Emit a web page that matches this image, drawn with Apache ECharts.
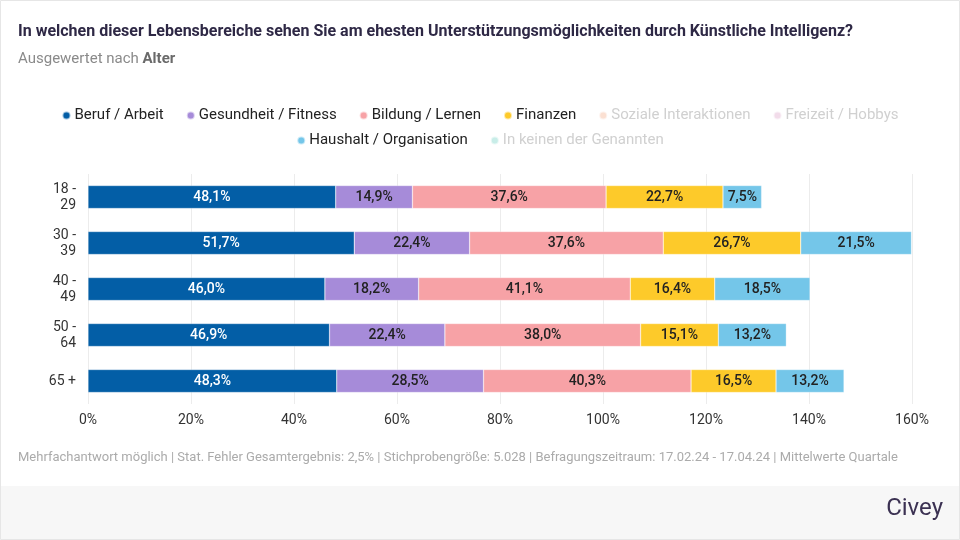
<!DOCTYPE html>
<html><head><meta charset="utf-8">
<script src="https://cdn.jsdelivr.net/npm/echarts@6/dist/echarts.min.js"></script>
<style>html,body{margin:0;padding:0;background:#fff}#c{width:960px;height:540px}</style>
</head><body><div id="c"></div>
<script>
const categories = ['18 -\n29', '30 -\n39', '40 -\n49', '50 -\n64', '65 +'];
const beruf = [48.1, 51.7, 46.0, 46.9, 48.3];
const gesundheit = [14.9, 22.4, 18.2, 22.4, 28.5];
const bildung = [37.6, 37.6, 41.1, 38.0, 40.3];
const finanzen = [22.7, 26.7, 16.4, 15.1, 16.5];
const soziale = [];
const freizeit = [];
const haushalt = [7.5, 21.5, 18.5, 13.2, 13.2];
const keine = [];
const tickLabels = ['0%', '20%', '40%', '60%', '80%', '100%', '120%', '140%', '160%'];

const seriesDefs = [
  {name: 'Beruf / Arbeit', data: beruf, color: '#035ea6', label: '#ffffff', active: true, row: 0},
  {name: 'Gesundheit / Fitness', data: gesundheit, color: '#a68bd9', label: '#222222', active: true, row: 0},
  {name: 'Bildung / Lernen', data: bildung, color: '#f7a2a6', label: '#222222', active: true, row: 0},
  {name: 'Finanzen', data: finanzen, color: '#fdca2a', label: '#222222', active: true, row: 0},
  {name: 'Soziale Interaktionen', data: soziale, color: '#fbe0d2', label: '#222222', active: false, row: 0},
  {name: 'Freizeit / Hobbys', data: freizeit, color: '#f2dcea', label: '#222222', active: false, row: 0},
  {name: 'Haushalt / Organisation', data: haushalt, color: '#74c6e9', label: '#222222', active: true, row: 1},
  {name: 'In keinen der Genannten', data: keine, color: '#c8ede8', label: '#222222', active: false, row: 1}
];

const FONT = 'Roboto';
function legendFor(row, top) {
  return {
    top: top, left: 'center',
    icon: 'circle', itemWidth: 8, itemHeight: 8, itemGap: 22,
    textStyle: {fontSize: 15, color: '#222', fontFamily: FONT, padding: [0, 0, 0, -1]},
    data: seriesDefs.filter(s => s.row === row)
      .map(s => s.active ? {name: s.name} : {name: s.name, textStyle: {color: '#d0d0d0'}})
  };
}

const chart = echarts.init(document.getElementById('c'));
chart.setOption({
  animation: false,
  textStyle: {fontFamily: FONT},
  graphic: [
    {type: 'rect', shape: {x: 0, y: 486, width: 960, height: 54}, style: {fill: '#f7f7f7'}, z: -10},
    {type: 'rect', shape: {x: 0.5, y: 0.5, width: 959, height: 539}, style: {fill: 'none', stroke: '#e6e6e6', lineWidth: 1}, z: -5},
    {type: 'text', left: 18, top: 24, style: {text: 'In welchen dieser Lebensbereiche sehen Sie am ehesten Unterstützungsmöglichkeiten durch Künstliche Intelligenz?', font: 'bold 16px Roboto', fill: '#2e2845'}},
    {type: 'text', left: 18, top: 52, style: {rich: {a: {font: '15px Roboto', fill: '#8a8a8a'}, b: {font: 'bold 15px Roboto', fill: '#6a6a6a'}}, text: '{a|Ausgewertet nach }{b|Alter}'}},
    {type: 'text', left: 18, top: 451, style: {text: 'Mehrfachantwort möglich | Stat. Fehler Gesamtergebnis: 2,5% | Stichprobengröße: 5.028 | Befragungszeitraum: 17.02.24 - 17.04.24 | Mittelwerte Quartale', font: '13px Roboto', fill: '#ababab'}},
    {type: 'text', right: 17, top: 497, style: {text: 'Civey', font: '24px Roboto', fill: '#3b3152'}}
  ],
  legend: [legendFor(0, 103), legendFor(1, 128)],
  grid: {left: 88, right: 48, top: 174, bottom: 136},
  xAxis: {
    type: 'value', min: 0, max: 160, interval: 20,
    axisLabel: {formatter: v => tickLabels[v / 20], fontSize: 14, color: '#333', margin: 9},
    splitLine: {lineStyle: {color: '#ececec'}},
    axisLine: {show: false}, axisTick: {show: false}
  },
  yAxis: {
    type: 'category', data: categories, inverse: true,
    axisLabel: {fontSize: 14, color: '#333', align: 'right', margin: 12, lineHeight: 16},
    axisLine: {show: false}, axisTick: {show: false}
  },
  series: seriesDefs.map(s => ({
    name: s.name, type: 'bar', stack: 'total', barWidth: 23,
    data: s.data,
    itemStyle: {color: s.color, borderColor: 'rgba(255,255,255,0.6)', borderWidth: 0.5},
    label: {show: true, position: 'inside', color: s.label, fontSize: 14, fontWeight: 500,
      formatter: p => p.value.toFixed(1).replace('.', ',') + '%'}
  }))
});
</script></body></html>
